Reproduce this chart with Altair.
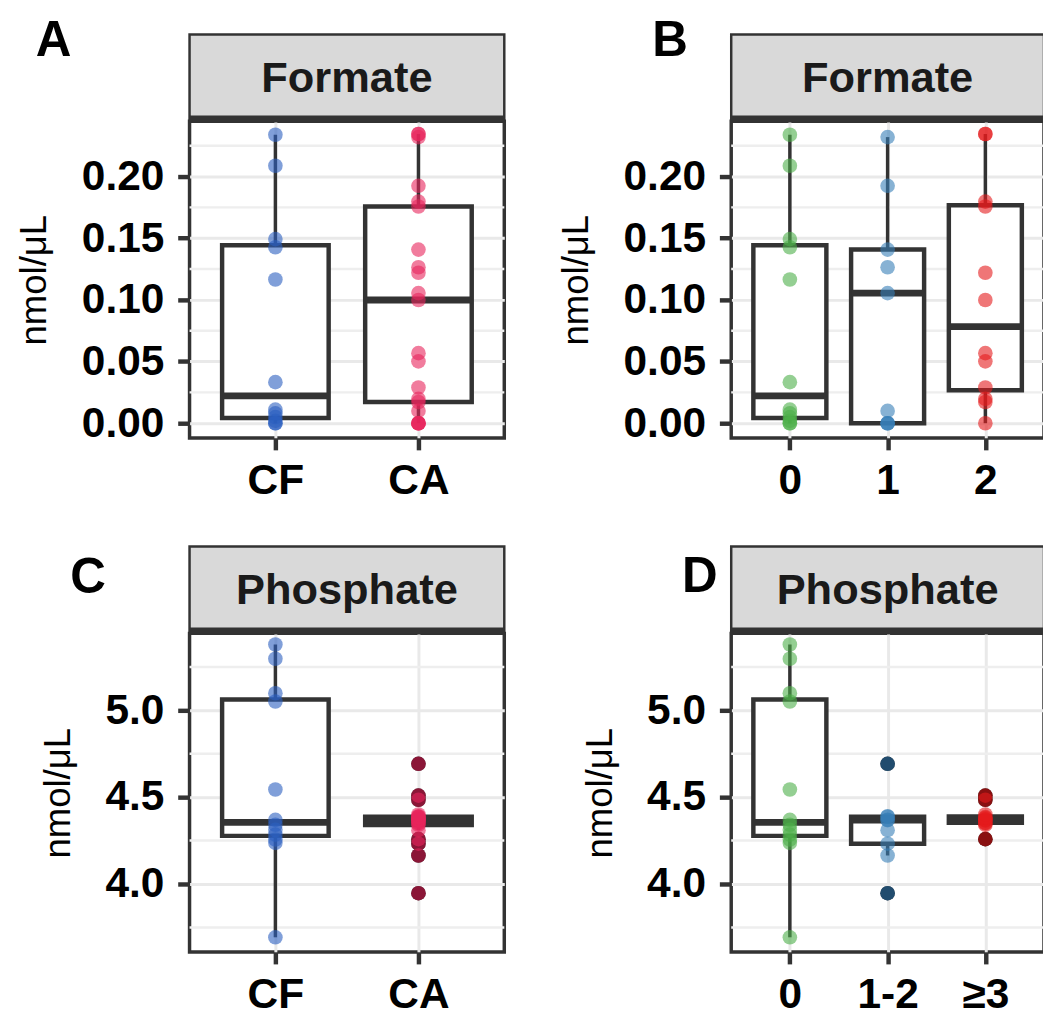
import altair as alt
import pandas as pd

# ---- data ----
formate_0 = [0.0, 0.0, 0.002, 0.005, 0.008, 0.011, 0.0333, 0.1165, 0.1427, 0.1493, 0.2088, 0.2339]
formate_1 = [0.0, 0.0, 0.0, 0.010, 0.1055, 0.1265, 0.1408, 0.1925, 0.232]
formate_2 = [0.0, 0.0172, 0.0198, 0.029, 0.0502, 0.0568, 0.0999, 0.122, 0.1757, 0.1797, 0.2345, 0.2345]

phosphate_0 = [3.693, 4.237, 4.256, 4.284, 4.312, 4.341, 4.369, 4.544, 5.051, 5.098, 5.297, 5.379]
phosphate_12 = [3.947, 4.164, 4.232, 4.31, 4.368, 4.37, 4.387, 4.39, 4.692]
phosphate_3 = [4.258, 4.34, 4.35, 4.353, 4.365, 4.37, 4.372, 4.38, 4.385, 4.40, 4.485, 4.509]

cf_ca = ["CF", "CA"]
formate_groups = ["0", "1", "2"]
phosphate_groups = ["0", "1-2", "≥3"]

formate_ticks = [0.0, 0.05, 0.10, 0.15, 0.20]
formate_minor = [0.025, 0.075, 0.125, 0.175, 0.225]
phosphate_ticks = [4.0, 4.5, 5.0]
phosphate_minor = [3.75, 4.25, 4.75, 5.25]

formate_domain = [-0.012, 0.2448]
phosphate_domain = [3.608, 5.443]

cfca_colors = ["#2b5fbf", "#e8245c"]
set1_colors = ["#4daf4a", "#377eb8", "#e41a1c"]

FONT = "Liberation Sans"
DARK = "#333333"
PT = 220


def frame(groups, arrays):
    rows = []
    for g, arr in zip(groups, arrays):
        for v in arr:
            rows.append({"group": g, "value": v})
    return pd.DataFrame(rows)


def panel(df, groups, colors, ydomain, ticks, minor, fmt, strip, letter,
          letter_dx, letter_dy, width, height, box_size):
    x = alt.X("group:N",
              scale=alt.Scale(type="point", padding=0.6, domain=groups),
              axis=alt.Axis(title=None, grid=True, labelAngle=0,
                            labelPadding=10))
    yscale = alt.Scale(domain=ydomain, nice=False, zero=False)
    y = alt.Y("value:Q", scale=yscale,
              axis=alt.Axis(title="nmol/μL", values=ticks, format=fmt,
                            grid=True, labelPadding=14, titlePadding=28,
                            labelOverlap=False, labelFlush=False))

    minor_layer = alt.Chart(pd.DataFrame({"value": minor})).mark_rule(
        color="#eeeeee", strokeWidth=2.5).encode(y=y)

    box = alt.Chart(df).mark_boxplot(
        extent=1.5, size=box_size,
        box={"fill": "white", "stroke": DARK, "strokeWidth": 4.5, "opacity": 1},
        median={"color": DARK, "thickness": 7, "opacity": 1},
        rule={"color": DARK, "strokeWidth": 3.5, "opacity": 1},
        outliers={"color": "black", "size": PT, "filled": True, "opacity": 1},
    ).encode(x=x, y=y)

    pts = alt.Chart(df).mark_circle(size=PT, opacity=0.6).encode(
        x=x, y=y,
        color=alt.Color("group:N", scale=alt.Scale(domain=groups, range=colors),
                        legend=None))

    one = pd.DataFrame({"k": [0]})
    strip_rect = alt.Chart(one).mark_rect(
        fill="#d9d9d9", stroke=DARK, strokeWidth=2.5).encode(
        x=alt.value(0), x2=alt.value(width), y=alt.value(-88), y2=alt.value(0))
    strip_line = alt.Chart(one).mark_rule(color=DARK, strokeWidth=6).encode(
        x=alt.value(0), x2=alt.value(width), y=alt.value(-3), y2=alt.value(-3))
    strip_text = alt.Chart(one).mark_text(
        text=strip, font=FONT, fontSize=44, fontWeight="bold", color="#1a1a1a",
        align="center", baseline="alphabetic").encode(
        x=alt.value(width / 2), y=alt.value(-30))
    letter_text = alt.Chart(one).mark_text(
        text=letter, font=FONT, fontSize=50, fontWeight="bold", color="black",
        align="left", baseline="alphabetic").encode(
        x=alt.value(letter_dx), y=alt.value(letter_dy))

    return alt.layer(minor_layer, box, pts, strip_rect, strip_line, strip_text,
                     letter_text).properties(width=width, height=height)


A = panel(frame(cf_ca, [formate_0, formate_1 + formate_2]), cf_ca, cfca_colors,
          formate_domain, formate_ticks, formate_minor, ".2f", "Formate", "A",
          -156, -66, 319, 321, 108)
B = panel(frame(formate_groups, [formate_0, formate_1, formate_2]), formate_groups,
          set1_colors, formate_domain, formate_ticks, formate_minor, ".2f",
          "Formate", "B", -80, -66, 317, 321, 74)
C = panel(frame(cf_ca, [phosphate_0, phosphate_12 + phosphate_3]), cf_ca, cfca_colors,
          phosphate_domain, phosphate_ticks, phosphate_minor, ".1f", "Phosphate", "C",
          -121, -41, 319, 323, 108)
D = panel(frame(phosphate_groups, [phosphate_0, phosphate_12, phosphate_3]),
          phosphate_groups, set1_colors, phosphate_domain, phosphate_ticks,
          phosphate_minor, ".1f", "Phosphate", "D", -50, -42, 317, 323, 74)

chart = alt.concat(A, B, C, D, columns=2, spacing={"row": 198, "column": 230},
                   bounds="flush").resolve_scale(color="independent").properties(
    padding={"left": 6, "top": 0, "right": -6, "bottom": -6},
    background="white",
).configure_view(stroke=DARK, strokeWidth=3.5).configure_axis(
    labelFont=FONT, labelFontWeight="bold", labelFontSize=43, labelColor="black",
    titleFont=FONT, titleFontWeight="normal", titleFontSize=37, titleColor="black",
    tickColor=DARK, tickWidth=4.5, tickSize=12, domain=False,
    gridColor="#e9e9e9", gridWidth=3,
)

chart.save("out.html", embed_options={"renderer": "svg", "actions": False})
